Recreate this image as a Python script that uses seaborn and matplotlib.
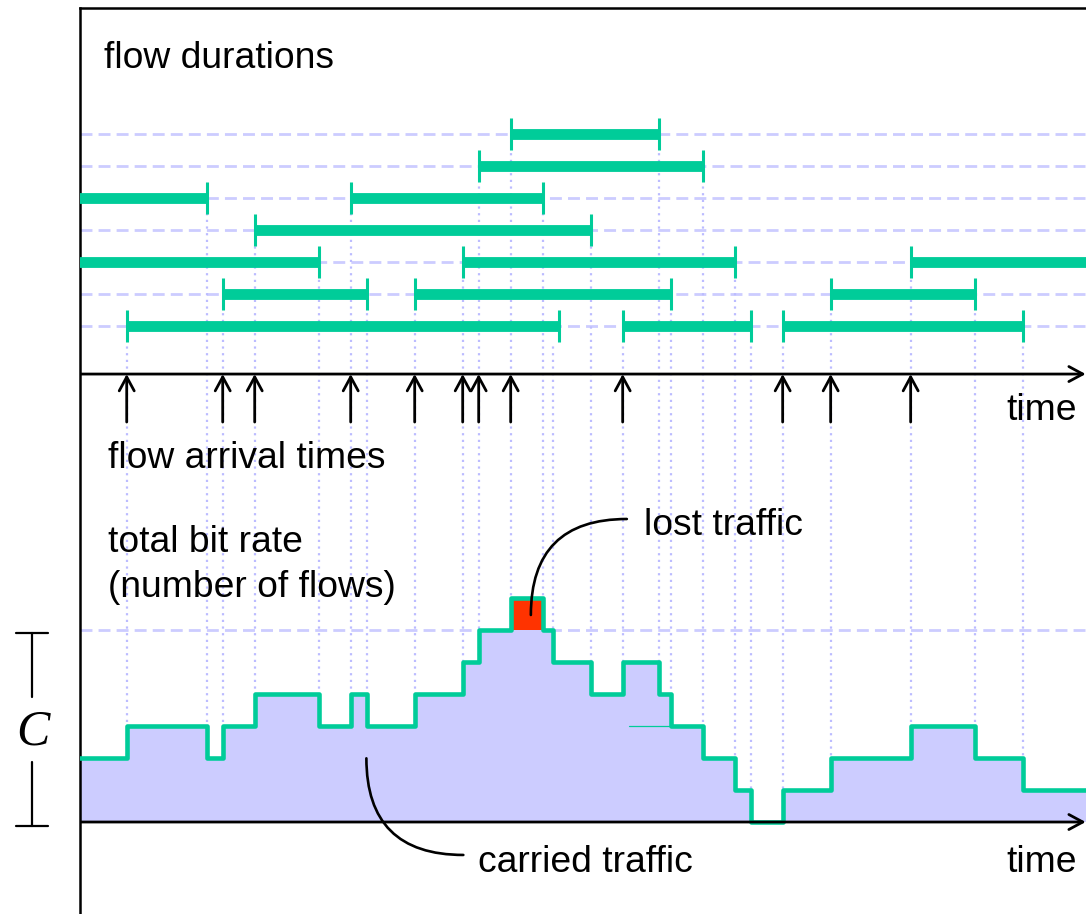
import numpy as np
import matplotlib
matplotlib.use('Agg')
import matplotlib.pyplot as plt
from matplotlib.patches import FancyArrowPatch
import seaborn as sns

# ------------------------------------------------------------
# data: one time unit = one grid step, one level = one flow
# ------------------------------------------------------------
CAPACITY = 6

# each flow: row (0 = lowest), start time, end time (outside the axis = still running)
flow_rows  = [6, 5, 4, 4, 3, 2, 2, 2, 1, 1, 1, 0, 0, 0]
flow_start = [13, 12, -1, 8, 5, -1, 11.5, 25.5, 4, 10, 23, 1, 16.5, 21.5]
flow_end   = [17.65, 19, 3.5, 14, 15.5, 7, 20, 33, 8.5, 18, 27.5, 14.5, 20.5, 29]

# total bit rate (number of flows), step changes
rate_times  = [-1, 1, 3.5, 4, 5, 7, 8, 8.5, 10, 11.5, 12, 13, 14, 14.33, 15.5,
               16.5, 17.65, 18, 19, 20, 20.5, 21.5, 23, 25.5, 27.5, 29, 33]
rate_levels = [2, 3, 2, 3, 4, 3, 4, 3, 4, 5, 6, 7, 6, 5, 4,
               5, 4, 3, 2, 1, 0, 1, 2, 3, 2, 1, 1]

GREEN = '#00cc99'
LAV = '#ccccff'
DOT = '#bcbcff'
RED = '#ff3300'

XMIN, XMAX = -0.46, 30.98
ROW0 = 15.5          # y of lowest flow row, time axis of top panel at 14
TOP_AXIS = 14

sns.set_style('white')
plt.rcParams['font.family'] = ['Liberation Sans', 'DejaVu Sans']
plt.rcParams['text.color'] = 'black'
FS = 26.8

fig = plt.figure(figsize=(10.86, 9.14), dpi=100)
ax = fig.add_axes([80 / 1086, 0, 1006 / 1086, 906 / 914])
ax.set_xlim(XMIN, XMAX)
ax.set_ylim(-2.875, 25.44)
ax.set_xticks([])
ax.set_yticks([])
for s in ['right', 'bottom']:
    ax.spines[s].set_visible(False)
for s in ['top', 'left']:
    ax.spines[s].set_color('black')
    ax.spines[s].set_linewidth(1.8)

dash = (0, (4.3, 2.2))

# --- dashed guide lines (rows + capacity) ---
for r in sorted(set(flow_rows)):
    ax.axhline(ROW0 + r, color=LAV, lw=2, ls=dash, zorder=1)
ax.axhline(CAPACITY, color=LAV, lw=2, ls=dash, zorder=1)

# --- dotted event lines, from the flow row down to the rate curve ---
ends = [(t, r) for t, r in zip(flow_start + flow_end, flow_rows + flow_rows)
        if XMIN < t < XMAX]
for t in rate_times[1:-1]:
    row = min(ends, key=lambda e: abs(e[0] - t))[1]
    ax.plot([t, t], [0, ROW0 + row - 0.5], color=DOT, lw=1.6,
            ls=(0, (1, 2)), zorder=1)

# --- flow durations ---
for r, s, e in zip(flow_rows, flow_start, flow_end):
    y = ROW0 + r
    ax.plot([s, e], [y, y], color=GREEN, lw=7.8, solid_capstyle='butt', zorder=3)
    for t in (s, e):
        if XMIN < t < XMAX:
            ax.plot([t, t], [y - 0.49, y + 0.49], color=GREEN, lw=2.2,
                    solid_capstyle='butt', zorder=3)

# --- time axes ---
for y0 in (TOP_AXIS, 0):
    ax.add_patch(FancyArrowPatch((XMIN, y0), (30.97, y0),
                                 arrowstyle='->,head_length=0.5,head_width=0.27',
                                 mutation_scale=20, lw=2, color='black',
                                 shrinkA=0, shrinkB=0, zorder=5))

# --- flow arrival arrows ---
arrivals = sorted(t for t in flow_start if XMIN < t < XMAX)
for t in arrivals:
    ax.add_patch(FancyArrowPatch((t, 12.5), (t, TOP_AXIS),
                                 arrowstyle='->,head_length=0.5,head_width=0.27',
                                 mutation_scale=20, lw=2, color='black',
                                 shrinkA=0, shrinkB=0, zorder=5))

# --- total bit rate ---
lv = np.array(rate_levels)
ax.fill_between(rate_times, 0, np.minimum(lv, CAPACITY), step='post',
                color=LAV, lw=0, zorder=2)
ax.fill_between(rate_times, CAPACITY, np.maximum(lv, CAPACITY), step='post',
                color=RED, lw=0, zorder=2)
sns.lineplot(x=rate_times, y=rate_levels, drawstyle='steps-post', color=GREEN,
             lw=3.3, estimator=None, sort=False, legend=False, ax=ax, zorder=4)
# thin stray segment visible in the original drawing
ax.plot([16.7, 17.98], [3, 3], color=GREEN, lw=0.9, zorder=4)

# --- labels ---
ax.text(0.30, 23.55, 'flow durations', fontsize=FS, va='baseline')
ax.text(0.42, 11.06, 'flow arrival times', fontsize=FS, va='baseline')
ax.text(0.42, 8.45, 'total bit rate', fontsize=FS, va='baseline')
ax.text(0.42, 7.04, '(number of flows)', fontsize=FS, va='baseline')
ax.text(28.48, 12.56, 'time', fontsize=FS, va='baseline')
ax.text(28.48, -1.55, 'time', fontsize=FS, va='baseline')
ax.text(17.16, 8.97, 'lost traffic', fontsize=FS, va='baseline')
ax.text(11.99, -1.55, 'carried traffic', fontsize=FS, va='baseline')

ax.annotate('', xy=(13.63, 6.47), xytext=(16.63, 9.47),
            arrowprops=dict(arrowstyle='-', connectionstyle='angle3,angleA=0,angleB=90',
                            lw=1.9, color='black', shrinkA=0, shrinkB=0), zorder=6)
ax.annotate('', xy=(8.49, 1.99), xytext=(11.52, -1.03),
            arrowprops=dict(arrowstyle='-', connectionstyle='angle3,angleA=0,angleB=90',
                            lw=1.9, color='black', shrinkA=0, shrinkB=0), zorder=6)

# --- capacity bracket ---
bx = -1.95
ax.plot([bx, bx], [3.92, 5.92], color='black', lw=1.6, clip_on=False)
ax.plot([bx, bx], [-0.115, 1.88], color='black', lw=1.6, clip_on=False)
ax.plot([-2.46, -1.47], [5.92, 5.92], color='black', lw=1.6, clip_on=False)
ax.plot([-2.46, -1.47], [-0.115, -0.115], color='black', lw=1.6, clip_on=False)
ax.text(-1.93, 2.8, 'C', fontsize=36, family=['Liberation Serif', 'DejaVu Serif'],
        style='italic', ha='center', va='center')

fig.savefig('out.png', dpi=100)
